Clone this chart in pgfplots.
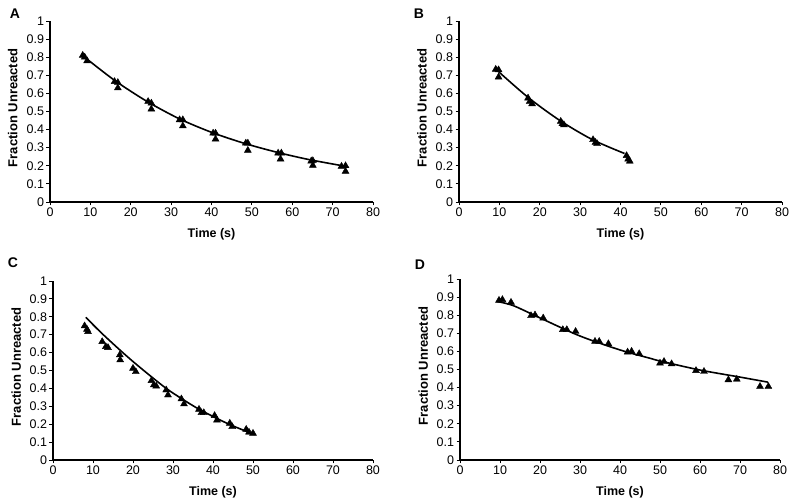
\documentclass[border=0pt]{standalone}
\usepackage{pgfplots}
\pgfplotsset{compat=1.18}
\usepackage{fontspec}
\setmainfont{Liberation Sans}
\pgfplotsset{
  panel/.style={
    scale only axis, width=323pt, height=181pt,
    xmin=0, xmax=80, ymin=0, ymax=1,
    axis x line=bottom, axis y line=left,
    axis line style={-, line width=1.1pt},
    tick align=outside, major tick length=3.5pt,
    tick style={black, line width=0.9pt},
    xtick={0,10,...,80}, ytick={0,0.1,...,1},
    /pgf/number format/assume math mode=true,
    /pgf/number format/fixed, /pgf/number format/precision=1,
    tick label style={font=\fontsize{12.5}{14}\selectfont},
    xticklabel style={yshift=1pt},
    yticklabel style={xshift=1pt},
    xlabel={Time (s)}, ylabel={Fraction Unreacted},
    every axis x label/.style={at={(axis description cs:0.5,-0.18)}, anchor=center, font=\fontsize{12.5}{14}\selectfont\bfseries},
    every axis y label/.style={at={(axis description cs:-0.115,0.52)}, anchor=center, rotate=90, font=\fontsize{13}{14}\selectfont\bfseries},
    clip=false,
  },
  pts/.style={only marks, mark=triangle*, mark size=4pt, black},
  fit/.style={no marks, black, line width=1.6pt, smooth},
}
\begin{document}
\begin{tikzpicture}
\path[use as bounding box] (0pt,0pt) rectangle (800pt,502pt);
% Panel A
\begin{axis}[panel, at={(50pt,300pt)}, anchor=south west]
\addplot[pts] coordinates {
(8.1,0.81)(8.6,0.80)(9.2,0.78)
(16,0.665)(16.8,0.66)(16.8,0.63)
(24.3,0.555)(25.1,0.546)(25.1,0.513)
(32.1,0.454)(32.9,0.454)(32.9,0.42)
(40.4,0.38)(41,0.38)(41,0.347)
(48.5,0.325)(49,0.325)(49,0.285)
(56.5,0.27)(57.3,0.27)(57.1,0.237)
(64.7,0.226)(65.1,0.228)(65.1,0.202)
(72.2,0.197)(73.2,0.2)(73.2,0.169)};
\addplot[fit] coordinates {(8,0.81)(16,0.672)(24,0.556)(32,0.46)(40,0.385)(48,0.325)(56,0.276)(64,0.235)(73,0.198)};
\end{axis}
% Panel B
\begin{axis}[panel, at={(459pt,300pt)}, anchor=south west]
\addplot[pts] coordinates {
(9.1,0.733)(9.8,0.73)(9.8,0.69)
(17.1,0.574)(17.5,0.555)(18.1,0.542)
(25.2,0.445)(25.6,0.432)(26,0.426)
(33.2,0.344)(33.8,0.329)(34.2,0.322)
(41.5,0.256)(41.9,0.237)(42.3,0.225)};
\addplot[fit] coordinates {(8.8,0.74)(17,0.58)(25,0.45)(33,0.345)(41,0.268)};
\end{axis}
% Panel C
\begin{axis}[panel, width=320pt, height=179pt, at={(53pt,42pt)}, anchor=south west]
\addplot[pts] coordinates {
(7.9,0.749)(8.5,0.73)(8.75,0.717)
(12.3,0.661)(13.2,0.633)(13.75,0.628)
(16.7,0.587)(16.8,0.559)
(20,0.512)(20.7,0.493)
(24.6,0.443)(25.2,0.419)(25.8,0.413)
(28.3,0.391)(28.75,0.363)
(32.1,0.341)(32.75,0.313)
(36.5,0.283)(37.1,0.264)(37.7,0.264)
(40.4,0.248)(41,0.223)
(44.2,0.205)(44.8,0.186)
(48.3,0.171)(49,0.155)(50,0.149)};
\addplot[fit] coordinates {(8.2,0.797)(12,0.712)(16.7,0.615)(20,0.55)(24,0.476)(28.3,0.40)(32,0.345)(36,0.29)(40,0.243)(44,0.2)(48,0.163)(50.4,0.142)};
\end{axis}
% Panel D
\begin{axis}[panel, width=320pt, height=181pt, at={(460pt,42pt)}, anchor=south west]
\addplot[pts] coordinates {
(9.75,0.882)(10.6,0.886)(12.75,0.871)
(17.75,0.797)(18.75,0.801)(20.8,0.784)
(25.7,0.72)(26.7,0.72)(28.9,0.71)
(33.75,0.655)(34.8,0.655)(37.1,0.642)
(41.9,0.596)(42.9,0.6)(44.8,0.587)
(50,0.535)(51,0.544)(52.9,0.531)
(59,0.494)(61,0.489)
(67.1,0.443)(69.2,0.446)
(75,0.406)(77.1,0.406)};
\addplot[fit] coordinates {(9.2,0.876)(13.3,0.853)(20,0.785)(30,0.685)(40,0.608)(47.5,0.562)(50,0.547)(60,0.497)(70,0.458)(77,0.43)};
\end{axis}
\node[font=\fontsize{14}{16}\selectfont\bfseries] at (15pt,488pt) {A};
\node[font=\fontsize{14}{16}\selectfont\bfseries] at (419pt,488pt) {B};
\node[font=\fontsize{14}{16}\selectfont\bfseries] at (13pt,239pt) {C};
\node[font=\fontsize{14}{16}\selectfont\bfseries] at (420pt,237pt) {D};
\end{tikzpicture}
\end{document}
